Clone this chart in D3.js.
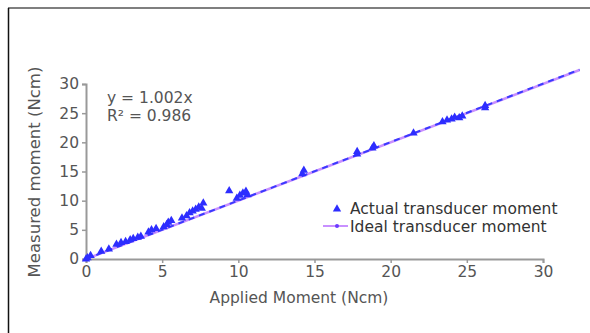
<!DOCTYPE html>
<html>
<head>
<meta charset="utf-8">
<script src="https://d3js.org/d3.v7.min.js"></script>
<style>
  body { margin: 0; background: #fff; }
  svg { display: block; }
  text { font-family: 'DejaVu Sans', sans-serif; fill: #555; }
</style>
</head>
<body>
<div id="chart"></div>
<script>
  // measured points
  var applied = [0, 0.1, 0.3, 1.0, 1.5,
    2.0, 2.3, 2.6, 2.9, 3.1, 3.4, 3.6,
    4.1, 4.3, 4.6, 5.1, 5.3, 5.4, 5.6,
    6.3, 6.6, 6.8, 7.0, 7.2, 7.4, 7.7, 7.6,
    9.4, 9.9, 10.1, 10.3, 10.5, 10.6,
    14.2, 14.3,
    17.8, 17.8, 18.8, 18.9,
    21.5,
    23.4, 23.7, 24.0, 24.2, 24.5, 24.7,
    26.2, 26.2];
  var measured = [0, 0.2, 0.6, 1.3, 1.7,
    2.5, 2.8, 3.0, 3.3, 3.5, 3.7, 3.9,
    4.6, 5.0, 5.2, 5.5, 5.9, 6.3, 6.6,
    7.0, 7.4, 7.9, 8.2, 8.5, 8.9, 9.6, 8.7,
    11.7, 10.4, 10.9, 11.3, 11.6, 11.0,
    14.6, 15.2,
    18.0, 18.4, 19.0, 19.4,
    21.6,
    23.5, 23.8, 24.0, 24.3, 24.2, 24.5,
    25.9, 26.3];

  // ideal line and fitted trend line
  var lineX = [0, 32.4];
  var slope = 1.002;
  var ticks = [0, 5, 10, 15, 20, 25, 30];
  var equationLines = ["y = 1.002x", "R² = 0.986"];
  var legendLabels = ["Actual transducer moment", "Ideal transducer moment"];

  var width = 590, height = 333;

  var svg = d3.select("#chart")
    .append("svg")
    .attr("width", width)
    .attr("height", height);

  // frame
  svg.append("line")
    .attr("x1", 8).attr("y1", 8).attr("x2", 590).attr("y2", 8)
    .attr("stroke", "#555").attr("stroke-width", 1.5);
  svg.append("line")
    .attr("x1", 8.5).attr("y1", 8).attr("x2", 8.5).attr("y2", 333)
    .attr("stroke", "#111").attr("stroke-width", 1.5);

  var x = d3.scaleLinear().domain([0, 30]).range([86, 543]);
  var y = d3.scaleLinear().domain([0, 30]).range([259, 84]);

  // axes
  var xAxis = svg.append("g")
    .attr("transform", "translate(0," + y(0) + ")")
    .call(d3.axisBottom(x).tickValues(ticks).tickSize(4).tickPadding(3));
  var yAxis = svg.append("g")
    .attr("transform", "translate(" + x(0) + ",0)")
    .call(d3.axisLeft(y).tickValues(ticks).tickSize(4).tickPadding(3));

  [xAxis, yAxis].forEach(function (g) {
    g.select(".domain").attr("stroke", "#999").attr("stroke-width", 2);
    g.selectAll(".tick line").attr("stroke", "#999").attr("stroke-width", 1.5);
    g.selectAll(".tick text")
      .style("font-family", "'DejaVu Sans', sans-serif")
      .style("font-size", "15.5px")
      .attr("fill", "#666");
  });

  // axis titles
  svg.append("text")
    .attr("x", 299)
    .attr("y", 303)
    .attr("text-anchor", "middle")
    .style("font-size", "15.5px")
    .text("Applied Moment (Ncm)");

  svg.append("text")
    .attr("transform", "translate(40,172) rotate(-90)")
    .attr("text-anchor", "middle")
    .style("font-size", "16.5px")
    .text("Measured moment (Ncm)");

  // ideal line (violet) and trend line (blue dashed)
  svg.append("path")
    .datum(lineX)
    .attr("fill", "none")
    .attr("stroke", "#c890ff")
    .attr("stroke-width", 2.5)
    .attr("d", d3.line().x(function (d) { return x(d); }).y(function (d) { return y(d); }));

  svg.append("path")
    .datum(lineX)
    .attr("fill", "none")
    .attr("stroke", "#3a3aff")
    .attr("stroke-width", 2)
    .attr("stroke-dasharray", "6,5")
    .attr("d", d3.line().x(function (d) { return x(d); }).y(function (d) { return y(slope * d); }));

  // points
  var tri = d3.symbol().type(d3.symbolTriangle).size(30);
  svg.selectAll(".pt")
    .data(applied)
    .enter()
    .append("path")
    .attr("class", "pt")
    .attr("d", tri)
    .attr("transform", function (d, i) { return "translate(" + x(d) + "," + y(measured[i]) + ")"; })
    .attr("fill", "#2d2dff");

  // equation
  svg.selectAll(".eq")
    .data(equationLines)
    .enter()
    .append("text")
    .attr("class", "eq")
    .attr("x", 107)
    .attr("y", function (d, i) { return 103 + i * 18; })
    .style("font-size", "15.5px")
    .text(function (d) { return d; });

  // legend
  svg.append("path")
    .attr("d", tri)
    .attr("transform", "translate(337,209)")
    .attr("fill", "#2d2dff");
  svg.append("line")
    .attr("x1", 323).attr("x2", 348).attr("y1", 226).attr("y2", 226)
    .attr("stroke", "#c890ff").attr("stroke-width", 2);
  svg.append("circle")
    .attr("cx", 337).attr("cy", 226).attr("r", 2)
    .attr("fill", "#6a3aff");
  svg.selectAll(".lg")
    .data(legendLabels)
    .enter()
    .append("text")
    .attr("class", "lg")
    .attr("x", 350)
    .attr("y", function (d, i) { return 214 + i * 18; })
    .style("font-size", "15.5px")
    .style("fill", "#333")
    .text(function (d) { return d; });
</script>
</body>
</html>
